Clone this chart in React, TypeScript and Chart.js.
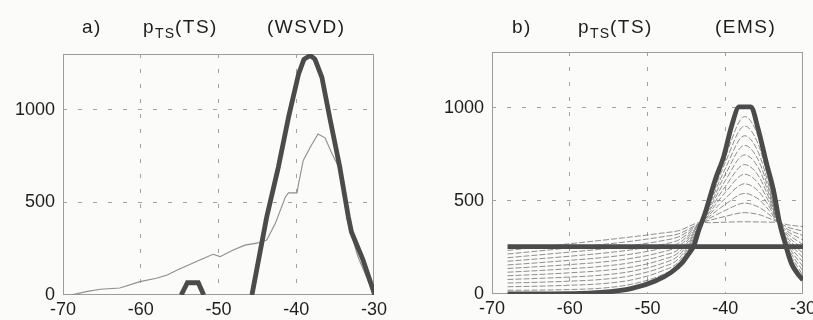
import React, { useEffect, useRef } from "react";
import { Chart, registerables } from "chart.js";
Chart.register(...registerables);

// ---------- tick labels ----------
const xTicks = [-70, -60, -50, -40, -30];
const yTicks = [0, 500, 1000];

// ---------- panel a) WSVD ----------
const wsvdBumpX = [-54.8, -54.0, -52.6, -51.9];
const wsvdBumpY = [0, 66, 66, 0];
const wsvdPeakX = [-45.7, -43.8, -42.3, -41.0, -39.7, -39.0, -38.2, -37.6, -36.7, -35.7, -34.4, -33.3, -32.9, -31.4, -29.9];
const wsvdPeakY = [0, 421, 690, 958, 1192, 1272, 1292, 1272, 1174, 958, 690, 421, 340, 188, 0];
const wsvdThinX = [-69, -67, -65.2, -62.7, -60.1, -58, -56.6, -55.3, -52.4, -50.7, -49.8, -48.1, -46.6, -44.9, -43.8, -42.7, -41.4, -41.0, -39.9, -39.7, -39.1, -38.2, -37.2, -36.3, -35.4, -34.4, -33.4, -32.1, -30];
const wsvdThinY = [0, 18, 31, 38, 72, 90, 108, 135, 189, 220, 207, 243, 269, 281, 296, 385, 529, 551, 551, 601, 726, 797, 869, 848, 762, 680, 400, 210, 0];

// ---------- panel b) EMS ----------
const emsUniformX = [-68, -30];
const emsUniformY = [255, 255];
const emsFinalX = [-68, -60, -56, -52, -49, -47, -45.5, -44.8, -44.0, -43.4, -42.6, -41.3, -40.2, -39.2, -38.2, -36.7, -35.8, -34.7, -33.8, -33.0, -32.3, -31.5, -30.7, -30];
const emsFinalY = [0, 2, 8, 30, 70, 115, 170, 210, 263, 344, 434, 613, 738, 900, 1005, 1005, 891, 703, 559, 380, 273, 165, 110, 75];
const emsIterX = [-68, -64, -60, -56, -52, -48, -46, -43, -42, -40, -37.5, -35.8, -34.5, -33.2, -32, -30];
const emsIter00 = [234, 252, 270, 288, 307, 328, 340, 385, 383, 386, 388, 387, 386, 385, 372, 362];
const emsIter01 = [215, 231, 248, 265, 284, 308, 323, 385, 396, 417, 437, 428, 409, 385, 360, 338];
const emsIter02 = [195, 210, 225, 241, 261, 287, 307, 386, 407, 449, 488, 469, 432, 385, 348, 314];
const emsIter03 = [176, 189, 203, 218, 238, 267, 290, 386, 418, 481, 540, 512, 456, 385, 337, 290];
const emsIter04 = [156, 168, 181, 195, 215, 247, 273, 387, 428, 513, 592, 555, 480, 385, 325, 266];
const emsIter05 = [137, 147, 158, 171, 192, 227, 257, 387, 439, 545, 643, 597, 504, 385, 313, 242];
const emsIter06 = [117, 126, 136, 148, 169, 207, 240, 388, 450, 577, 695, 639, 528, 385, 301, 219];
const emsIter07 = [98, 105, 114, 125, 145, 186, 223, 388, 461, 609, 747, 682, 552, 385, 289, 195];
const emsIter08 = [78, 84, 91, 101, 122, 166, 207, 389, 472, 641, 798, 724, 575, 385, 277, 171];
const emsIter09 = [59, 63, 69, 78, 99, 146, 190, 389, 483, 673, 850, 766, 599, 385, 266, 147];
const emsIter10 = [39, 42, 47, 55, 76, 126, 173, 390, 494, 706, 902, 809, 623, 385, 254, 123];
const emsIter11 = [20, 21, 24, 31, 53, 105, 157, 390, 504, 737, 953, 851, 646, 385, 242, 99];
const emsIterations = [emsIter00, emsIter01, emsIter02, emsIter03, emsIter04, emsIter05, emsIter06, emsIter07, emsIter08, emsIter09, emsIter10, emsIter11];

const pts = (xs: number[], ys: number[]) => xs.map((x, i) => ({ x, y: ys[i] }));

const THICK = "#4b4b4b";
const FONT = '"Liberation Sans", Arial, sans-serif';

const framePlugin = {
  id: "frame",
  beforeDatasetsDraw(chart: any) {
    const { ctx, chartArea: a } = chart;
    ctx.save();
    ctx.strokeStyle = "#9c9c9c";
    ctx.lineWidth = 1;
    ctx.strokeRect(a.left + 0.5, a.top + 0.5, a.right - a.left - 1, a.bottom - a.top - 1);
    ctx.restore();
  },
};

function makeOptions(yWidth: number, xHeight: number, padTop: number, padRight: number) {
  const gridColor = (c: any) =>
    c.tick && (c.tick.value === -70 || c.tick.value === -30 || c.tick.value === 0)
      ? "rgba(0,0,0,0)"
      : "#a2a2a2";
  return {
    responsive: false,
    animation: false as const,
    devicePixelRatio: 1,
    layout: { padding: { top: padTop, right: padRight, left: 0, bottom: 0 } },
    plugins: { legend: { display: false }, tooltip: { enabled: false }, title: { display: false } },
    elements: { point: { radius: 0 } },
    scales: {
      x: {
        type: "linear" as const,
        min: -70,
        max: -30,
        afterBuildTicks: (s: any) => { s.ticks = xTicks.map((v) => ({ value: v })); },
        afterFit: (s: any) => { s.height = xHeight; },
        grid: { color: gridColor, lineWidth: 1, drawTicks: false },
        border: { display: false, dash: [4, 11] },
        ticks: { padding: 4, color: "#1e1e1e", font: { family: FONT, size: 18 }, maxRotation: 0, autoSkip: false, callback: (v: any) => String(v) },
      },
      y: {
        type: "linear" as const,
        min: 0,
        max: 1300,
        afterBuildTicks: (s: any) => { s.ticks = yTicks.map((v) => ({ value: v })); },
        afterFit: (s: any) => { s.width = yWidth; },
        grid: { color: gridColor, lineWidth: 1, drawTicks: false },
        border: { display: false, dash: [4, 11] },
        ticks: { padding: 8, color: "#1e1e1e", font: { family: FONT, size: 18 }, callback: (v: any) => String(v) },
      },
    },
  };
}

function PanelA() {
  const ref = useRef<HTMLCanvasElement>(null);
  useEffect(() => {
    const chart = new Chart(ref.current!, {
      type: "line",
      data: {
        datasets: [
          { data: pts(wsvdPeakX, wsvdPeakY), borderColor: THICK, borderWidth: 4.8, tension: 0, borderJoinStyle: "round" as const },
          { data: pts(wsvdBumpX, wsvdBumpY), borderColor: THICK, borderWidth: 4.8, tension: 0 },
          { data: pts(wsvdThinX, wsvdThinY), borderColor: "#8e8e8e", borderWidth: 1.1, tension: 0 },
        ],
      },
      options: makeOptions(63, 25, 54, 32) as any,
      plugins: [framePlugin],
    });
    return () => chart.destroy();
  }, []);
  return <canvas ref={ref} width={406} height={320} style={{ position: "absolute", left: 0, top: 0, width: 406, height: 320 }} />;
}

function PanelB() {
  const ref = useRef<HTMLCanvasElement>(null);
  useEffect(() => {
    const thin = emsIterations.map((ys) => ({
      data: pts(emsIterX, ys),
      borderColor: "rgba(95,95,95,0.7)",
      borderWidth: 1,
      borderDash: [6, 2],
      cubicInterpolationMode: "monotone" as const,
    }));
    const chart = new Chart(ref.current!, {
      type: "line",
      data: {
        datasets: [
          { data: pts(emsUniformX, emsUniformY), borderColor: THICK, borderWidth: 4.8, tension: 0 },
          { data: pts(emsFinalX, emsFinalY), borderColor: THICK, borderWidth: 4.8, cubicInterpolationMode: "monotone" as const },
          ...thin,
        ],
      },
      options: makeOptions(82, 26, 52, 27) as any,
      plugins: [framePlugin],
    });
    return () => chart.destroy();
  }, []);
  return <canvas ref={ref} width={420} height={320} style={{ position: "absolute", left: 410, top: 0, width: 420, height: 320 }} />;
}

const titleStyle: React.CSSProperties = {
  position: "absolute",
  top: 17,
  fontFamily: FONT,
  fontSize: 19,
  lineHeight: 1,
  letterSpacing: 1.5,
  color: "#1e1e1e",
  whiteSpace: "nowrap",
};
const subStyle: React.CSSProperties = { fontSize: 14, verticalAlign: "-5px", letterSpacing: 1 };

export default function App() {
  return (
    <div style={{ position: "absolute", left: 0, top: 0, width: 813, height: 320, overflow: "hidden", background: "#fbfbfa" }}>
      <PanelA />
      <PanelB />
      <div style={{ ...titleStyle, left: 82 }}>a)</div>
      <div style={{ ...titleStyle, left: 143 }}>p<sub style={subStyle}>TS</sub>(TS)</div>
      <div style={{ ...titleStyle, left: 267 }}>(WSVD)</div>
      <div style={{ ...titleStyle, left: 512 }}>b)</div>
      <div style={{ ...titleStyle, left: 578 }}>p<sub style={subStyle}>TS</sub>(TS)</div>
      <div style={{ ...titleStyle, left: 715 }}>(EMS)</div>
    </div>
  );
}
